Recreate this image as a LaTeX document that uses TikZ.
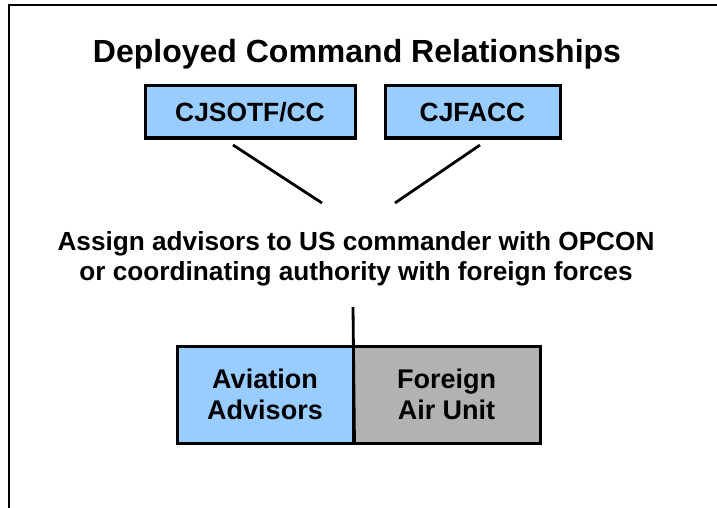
\documentclass[tikz,border=0pt]{standalone}
\usepackage{fontspec}
\setmainfont{Liberation Sans}
\definecolor{cmdblue}{HTML}{99CCFF}
\definecolor{unitgray}{HTML}{B2B2B2}
\begin{document}
\begin{tikzpicture}[x=1pt,y=-1pt,
  cmdbox/.style={draw=black,line width=3pt,rectangle,inner sep=0pt,
    font=\bfseries\fontsize{26.4}{30}\selectfont,align=center},
  unitbox/.style={cmdbox,minimum height=97pt,font=\bfseries\fontsize{27}{31}\selectfont},
  link/.style={draw=black,line width=2.8pt},
  frameline/.style={draw=black,line width=2.2pt}]
  \useasboundingbox (0,0) rectangle (717,508);
  % page frame (top and left edges)
  \draw[frameline] (9,508) -- (9,5) -- (717,5);
  % title
  \node[font=\bfseries\fontsize{32}{36}\selectfont,anchor=base] (title) at (357,63) {Deployed Command Relationships};
  % commands
  \node[cmdbox,fill=cmdblue,minimum width=210pt,minimum height=52pt] (cjsotf) at (250,112) {CJSOTF/CC};
  \node[cmdbox,fill=cmdblue,minimum width=175pt,minimum height=52pt] (cjfacc) at (472.5,112) {CJFACC};
  % statement
  \node[font=\bfseries\fontsize{26.2}{29.5}\selectfont,align=center] (assign) at (356,259) {Assign advisors to US commander with OPCON\\or coordinating authority with foreign forces};
  % connector ends
  \coordinate (a1) at (233,145);
  \coordinate (a2) at (322,203);
  \coordinate (b1) at (480,145);
  \coordinate (b2) at (395,203);
  \coordinate (c1) at (353,307);
  \draw[link] (a1) -- (a2);
  \draw[link] (b1) -- (b2);
  % paired units
  \node[unitbox,fill=cmdblue,minimum width=176pt] (advisors) at (265,394.5) {Aviation\\Advisors};
  \node[unitbox,fill=unitgray,minimum width=187pt] (foreign) at (446.5,394.5) {Foreign\\Air Unit};
  \draw[link] (c1) -- (advisors.south east);
\end{tikzpicture}
\end{document}
